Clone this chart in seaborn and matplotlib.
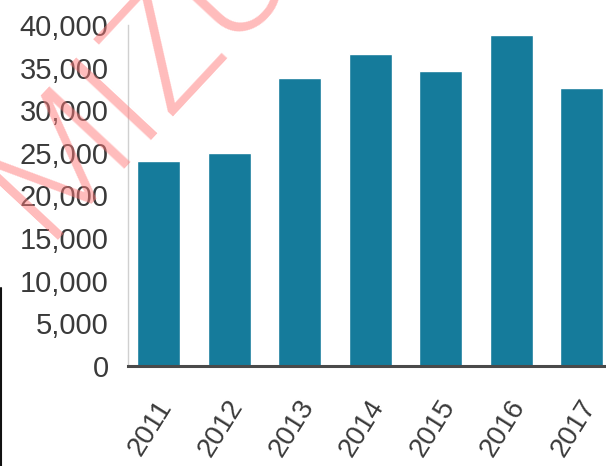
import matplotlib
matplotlib.use("Agg")
import matplotlib.pyplot as plt
import matplotlib.lines as mlines
import matplotlib.transforms as mtransforms
import seaborn as sns
import pandas as pd
from matplotlib.ticker import FuncFormatter

years = ["2011", "2012", "2013", "2014", "2015", "2016", "2017"]
values = [24000, 25000, 33800, 36600, 34600, 38850, 32600]
y_ticks = [0, 5000, 10000, 15000, 20000, 25000, 30000, 35000, 40000]

sns.set_theme(style="white")
plt.rcParams["font.family"] = ["Liberation Sans", "DejaVu Sans"]

df = pd.DataFrame({"year": years, "value": values})

fig = plt.figure(figsize=(6.06, 4.66), dpi=100)
ax = fig.add_axes([128 / 606, 100 / 466, (617 - 128) / 606, 341 / 466])

sns.barplot(data=df, x="year", y="value", color="#157B9B", saturation=1,
            width=0.61, ax=ax)

ax.set_xlim(-0.433, 6.5)
ax.set_ylim(0, 40000)
ax.set_yticks(y_ticks)
ax.yaxis.set_major_formatter(FuncFormatter(lambda v, p: f"{int(v):,}"))
ax.set_xlabel("")
ax.set_ylabel("")

for side in ["top", "right"]:
    ax.spines[side].set_visible(False)
ax.spines["left"].set_color("#d0d0d0")
ax.spines["left"].set_linewidth(1)
ax.spines["bottom"].set_color("#4a4a4a")
ax.spines["bottom"].set_linewidth(2.2)

ax.tick_params(axis="y", length=0, pad=14, labelsize=21, labelcolor="#3a3a3a")
ax.tick_params(axis="x", length=0, pad=21, labelsize=20, labelcolor="#3a3a3a")
shift = mtransforms.ScaledTranslation(-0.08, 0, fig.dpi_scale_trans)
for lbl in ax.get_xticklabels():
    lbl.set_rotation(58)
    lbl.set_ha("center")
    lbl.set_va("top")
    lbl.set_transform(lbl.get_transform() + shift)

# faint diagonal watermark over the upper-left corner
fig.text(0.074, 0.485, "MIZUHO", rotation=47, rotation_mode="anchor",
         fontsize=112, fontweight=300, color="#ff7a7a", alpha=0.5,
         ha="left", va="baseline", zorder=10,
         fontfamily=["Roboto", "Liberation Sans", "DejaVu Sans"])

# thin dark edge at the lower-left border
fig.add_artist(mlines.Line2D([0.002, 0.002], [0, (466 - 288) / 466],
                             color="#111111", linewidth=1.5,
                             transform=fig.transFigure))

fig.savefig("out.png", dpi=100)
